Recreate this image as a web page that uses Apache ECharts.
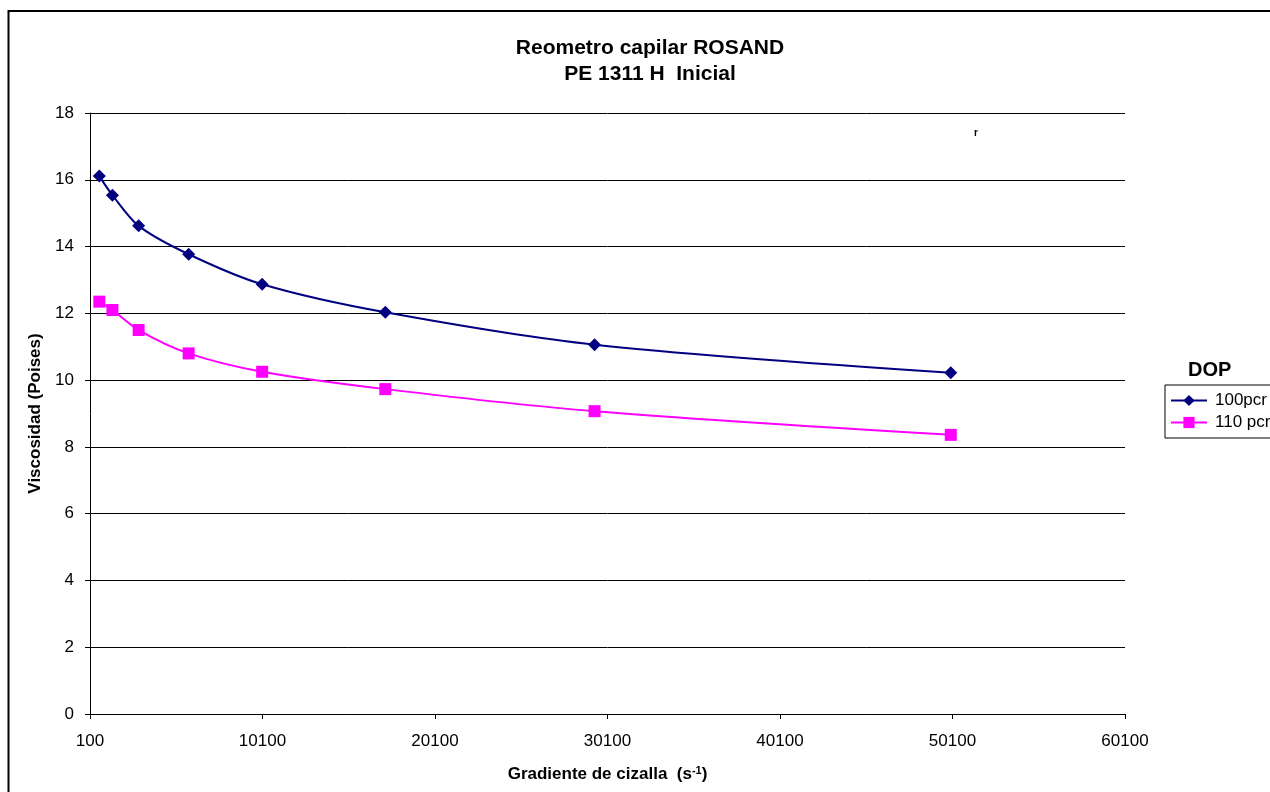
<!DOCTYPE html>
<html>
<head>
<meta charset="utf-8">
<script src="https://cdn.jsdelivr.net/npm/echarts@6/dist/echarts.min.js"></script>
<style>
  html, body { margin: 0; padding: 0; background: #fff; }
  #chart { width: 1270px; height: 792px; }
</style>
</head>
<body>
<div id="chart"></div>
<script>
// Shear rate (s^-1) at which each viscosity was measured
const shearRate = [640, 1400, 2920, 5820, 10080, 17220, 29350, 50000];
// Viscosity (Poises) per DOP level
const visc100 = [16.11, 15.54, 14.62, 13.77, 12.87, 12.03, 11.06, 10.22];
const visc110 = [12.35, 12.10, 11.50, 10.80, 10.25, 9.73, 9.07, 8.36];
const seriesNames = ['100pcr', '110 pcr'];

const FONT = '"Liberation Sans", Arial, sans-serif';

const chart = echarts.init(document.getElementById('chart'), null, { renderer: 'canvas' });

function pairs(xs, ys) { return xs.map((x, i) => [x, ys[i]]); }

chart.setOption({
  animation: false,
  backgroundColor: '#ffffff',
  title: [
    {
      text: 'Reometro capilar ROSAND\nPE 1311 H  Inicial',
      left: 645, top: 30, textAlign: 'center',
      textStyle: { fontFamily: FONT, fontSize: 21, fontWeight: 'bold', color: '#000', lineHeight: 26 }
    },
    {
      text: 'DOP',
      left: 1183, top: 355,
      textStyle: { fontFamily: FONT, fontSize: 20, fontWeight: 'bold', color: '#000' }
    }
  ],
  graphic: [
    { type: 'rect', shape: { x: 8.5, y: 11, width: 1400, height: 900 },
      style: { fill: 'none', stroke: '#000', lineWidth: 2 }, silent: true },
    { type: 'text', x: 974, y: 128,
      style: { text: 'r', fontFamily: FONT, fontSize: 10, fontWeight: 'bold', fill: '#000' } }
  ],
  legend: {
    data: seriesNames,
    orient: 'vertical',
    left: 1165, top: 385,
    padding: [7, 40, 7, 5],
    itemGap: 5,
    itemWidth: 36, itemHeight: 14,
    borderColor: '#000', borderWidth: 1,
    textStyle: { fontFamily: FONT, fontSize: 17, color: '#000', padding: [0, 0, 0, 3] }
  },
  grid: { left: 90, right: 145, top: 113, bottom: 78 },
  xAxis: {
    type: 'value', min: 100, max: 60100, interval: 10000,
    name: 'Gradiente de cizalla  (s{sup|-1})',
    nameLocation: 'middle', nameGap: 51,
    nameTextStyle: {
      fontFamily: FONT, fontSize: 17, fontWeight: 'bold', color: '#000',
      rich: { sup: { fontFamily: FONT, fontSize: 11, fontWeight: 'bold', verticalAlign: 'top', padding: [0, 0, 8, 0] } }
    },
    axisLine: { lineStyle: { color: '#000', width: 1 } },
    axisTick: { show: true, length: 5, inside: false, lineStyle: { color: '#000' } },
    axisLabel: { fontFamily: FONT, fontSize: 17, color: '#000', margin: 19,
                 formatter: v => String(v) },
    splitLine: { show: false }
  },
  yAxis: {
    type: 'value', min: 0, max: 18, interval: 2,
    name: 'Viscosidad (Poises)',
    nameLocation: 'middle', nameGap: 42,
    nameTextStyle: { fontFamily: FONT, fontSize: 17, fontWeight: 'bold', color: '#000' },
    axisLine: { show: true, lineStyle: { color: '#000', width: 1 } },
    axisTick: { show: true, length: 5, inside: false, lineStyle: { color: '#000' } },
    axisLabel: { fontFamily: FONT, fontSize: 17, color: '#000', margin: 16 },
    splitLine: { show: true, lineStyle: { color: '#000', width: 1 } }
  },
  series: [
    {
      name: seriesNames[0], type: 'line', smooth: 0.3,
      data: pairs(shearRate, visc100),
      symbol: 'diamond', symbolSize: 13,
      lineStyle: { color: '#000080', width: 2 },
      itemStyle: { color: '#000080' }
    },
    {
      name: seriesNames[1], type: 'line', smooth: 0.3,
      data: pairs(shearRate, visc110),
      symbol: 'rect', symbolSize: 12,
      lineStyle: { color: '#ff00ff', width: 2 },
      itemStyle: { color: '#ff00ff' }
    }
  ]
});
</script>
</body>
</html>
